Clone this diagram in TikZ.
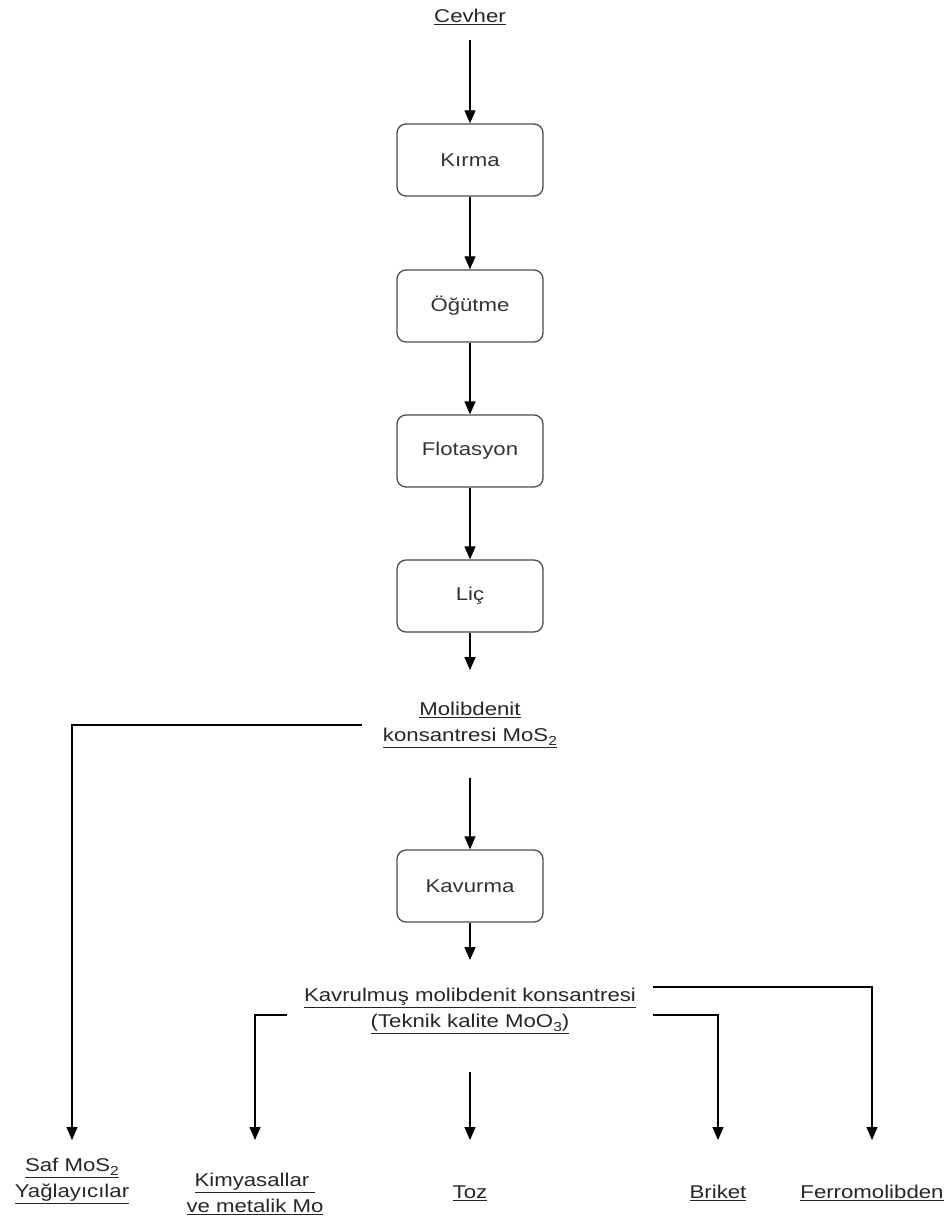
\documentclass[tikz,border=0pt]{standalone}
\usepackage{fontspec}
\setmainfont{Liberation Sans}[FakeStretch=1.2]
\usetikzlibrary{arrows.meta}
\newcommand{\dfont}{\fontsize{18.5}{26}\selectfont}
\newcommand{\lowsub}[1]{\raisebox{-0.4ex}{\fontsize{13}{13}\selectfont #1}}
\begin{document}
\begin{tikzpicture}[x=1pt,y=-1pt,
  box/.style={draw=black!70, line width=1.3pt, rounded corners=9pt, minimum width=146pt, minimum height=72pt, text=black!80, font=\dfont, inner sep=0pt},
  lbl/.style={align=center, text=black!85, font=\dfont, inner sep=3pt},
  arr/.style={-{Triangle[length=13pt,width=11pt]}, line width=1.2pt, draw=black}]
\useasboundingbox (0,0) rectangle (952,1224);
\coordinate (tipline) at (0,1140);

\node[lbl] (cevher) at (470,17) {\underline{Cevher}};
\node[box] (kirma) at (470,160) {Kırma};
\node[box] (ogutme) at (470,306) {Öğütme};
\node[box] (flot) at (470,451) {Flotasyon};
\node[box] (lic) at (470,596) {Liç};
\node[lbl] (molib) at (470,725) {\underline{Molibdenit}\\\underline{konsantresi MoS\lowsub{2}}};
\node[box] (kavurma) at (470,886) {Kavurma};
\node[lbl, inner xsep=17pt] (kav) at (470,1011) {\underline{Kavrulmuş molibdenit konsantresi}\\\underline{(Teknik kalite MoO\lowsub{3})}};

\node[lbl] (saf) at (72,1181) {\underline{Saf MoS\lowsub{2}}\\\underline{Yağlayıcılar}};
\node[lbl] (kim) at (255,1194) {\underline{Kimyasallar }\\\underline{ve metalik Mo}};
\node[lbl] (toz) at (470,1193) {\underline{Toz}};
\node[lbl] (brik) at (718,1193) {\underline{Briket}};
\node[lbl] (ferro) at (872,1193) {\underline{Ferromolibden}};

\draw[arr, shorten <=12pt] (cevher) -- (kirma);
\draw[arr] (kirma) -- (ogutme);
\draw[arr] (ogutme) -- (flot);
\draw[arr] (flot) -- (lic);
\draw[arr, shorten >=29pt] (lic) -- (molib);
\draw[arr, shorten <=27pt] (molib) -- (kavurma);
\draw[arr, shorten >=25pt] (kavurma) -- (kav);

\draw[arr] ([xshift=-18pt]molib.west) -| (saf |- tipline);
\draw[arr] (kav.west |- 0,1015) -| (kim |- tipline);
\draw[arr] (kav |- 0,1072) -- (toz |- tipline);
\draw[arr] (kav.east |- 0,1015) -| (brik |- tipline);
\draw[arr] (kav.east |- 0,987) -| (ferro |- tipline);
\end{tikzpicture}
\end{document}
